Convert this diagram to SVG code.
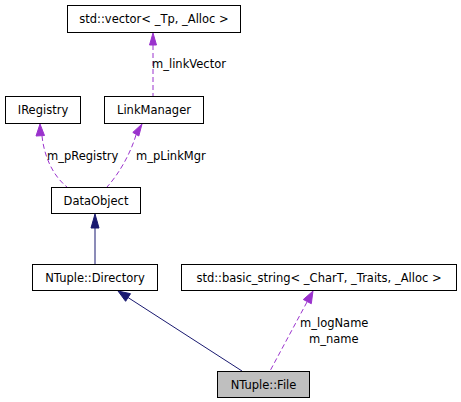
<svg xmlns="http://www.w3.org/2000/svg" width="461" height="402" viewBox="0 0 461 402">
<style>
.box{fill:#ffffff;stroke:#000000;stroke-width:1}
.sel{fill:#bfbfbf;stroke:#000000;stroke-width:1}
.t{font-family:"DejaVu Sans",sans-serif;font-size:11.5px;fill:#000000}
.m{text-anchor:middle}
.use{fill:none;stroke:#9a32cd;stroke-width:1;stroke-dasharray:5,3}
.useh{fill:#9a32cd;stroke:#9a32cd}
.inh{fill:none;stroke:#191970;stroke-width:1}
.inhh{fill:#191970;stroke:#191970}
</style>
<rect width="461" height="402" fill="#ffffff"/>
<g id="connectors">
<path class="use" d="M153 45 L153 96"/>
<polygon class="useh" points="153,33 149.5,45 156.5,45"/>
<path class="use" d="M42 136 C44 155 52 175 67 187"/>
<polygon class="useh" points="40,124 36,136 44.5,135.5"/>
<path class="use" d="M136 135 C130 155 118 175 107 187"/>
<polygon class="useh" points="142,124 132.8,132.4 138.8,136"/>
<path class="inh" d="M95 228 L95 264"/>
<polygon class="inhh" points="95,214 91,228 99,228"/>
<path class="inh" d="M128 297.5 L242 371"/>
<polygon class="inhh" points="118,291 130.5,293.7 125.6,301.3"/>
<path class="use" d="M307 302 L270 371"/>
<polygon class="useh" points="313,291 303.3,299.5 311.3,303.7"/>
<text class="t" x="152" y="68">m_linkVector</text>
<text class="t" x="47" y="160">m_pRegistry</text>
<text class="t" x="136" y="160">m_pLinkMgr</text>
<text class="t" x="300" y="327">m_logName</text>
<text class="t" x="309" y="343">m_name</text>
</g>
<g id="node-vector">
<rect class="box" x="67.5" y="5.5" width="173" height="27"/>
<text class="t m" x="154" y="23">std::vector&lt; _Tp, _Alloc &gt;</text>
</g>
<g id="node-IRegistry">
<rect class="box" x="5.5" y="96.5" width="75" height="27"/>
<text class="t m" x="43" y="114">IRegistry</text>
</g>
<g id="node-LinkManager">
<rect class="box" x="104.5" y="96.5" width="99" height="27"/>
<text class="t m" x="154" y="114">LinkManager</text>
</g>
<g id="node-DataObject">
<rect class="box" x="51.5" y="187.5" width="89" height="26"/>
<text class="t m" x="96" y="205">DataObject</text>
</g>
<g id="node-Directory">
<rect class="box" x="32.5" y="264.5" width="125" height="26"/>
<text class="t m" x="95" y="282">NTuple::Directory</text>
</g>
<g id="node-basic_string">
<rect class="box" x="181.5" y="264.5" width="275" height="26"/>
<text class="t m" x="319" y="282">std::basic_string&lt; _CharT, _Traits, _Alloc &gt;</text>
</g>
<g id="node-File">
<rect class="sel" x="217.5" y="371.5" width="92" height="26"/>
<text class="t m" x="263.5" y="389">NTuple::File</text>
</g>
</svg>
